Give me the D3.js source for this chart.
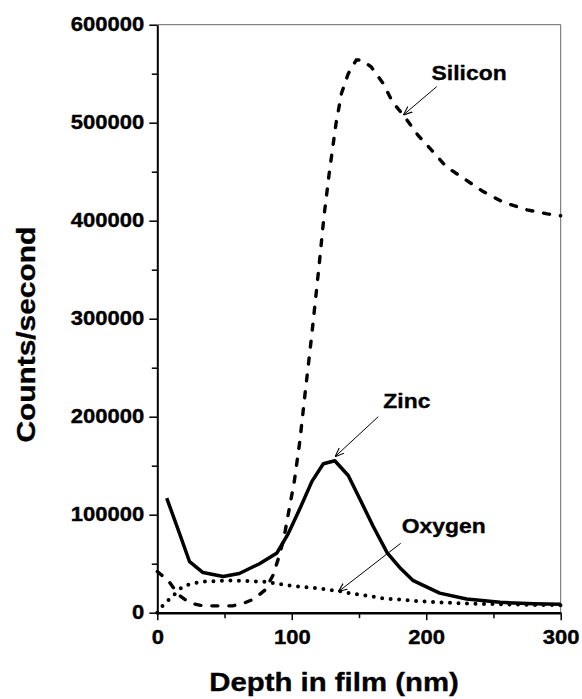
<!DOCTYPE html>
<html>
<head>
<meta charset="utf-8">
<script src="https://cdn.jsdelivr.net/npm/d3@7"></script>
<style>
  body { margin: 0; background: #fff; }
  svg { display: block; font-family: "Liberation Sans", Arial, Helvetica, sans-serif; font-weight: bold; }
  svg text { stroke: #000; stroke-width: 0.35px; }
</style>
</head>
<body>
<svg id="chart" width="582" height="699"></svg>
<script>
  // depth in film (nm), counts/second
  var silicon = [[0,42000],[8,33000],[16,18000],[24,10000],[32,7500],[40,7000],[56,7000],[64,9500],
    [72,14000],[80,23000],[86,38000],[90,55000],[94,75000],[98,105000],[102,135000],[106,175000],
    [110,225000],[115,285000],[120,350000],[124,405000],[128,450000],[133,500000],[137,530000],
    [142,550000],[148,564000],[152,564000],[159,557000],[168,540000],[175,521000],[184,506000],
    [194,487000],[204,472000],[215,455000],[228,443000],[242,430000],[257,419000],[275,411000],
    [290,407000],[300,405000]];
  var zinc = [[7,117000],[17,79000],[24,52000],[34,41000],[49,37000],[61,40000],[76,50000],
    [89,61000],[97.5,81000],[106,106000],[115,134000],[123.5,152000],[132,155000],[142,140000],
    [151,115000],[160.6,88000],[171,61000],[181,45000],[190,33000],[210,20000],[230,14000],
    [255,10600],[280,9200],[300,8600]];
  var oxygen = [[0,0],[4.5,8000],[10.7,16000],[19,27000],[32,31500],[56,33000],[81,31500],
    [96,28000],[118,25000],[136,22000],[143,20000],[168,14700],[193,12000],[218,10000],
    [242,9000],[270,8200],[300,7600]];

  var xTicks = [0, 100, 200, 300];
  var xMinor = [50, 150, 250];
  var yTicks = [0, 100000, 200000, 300000, 400000, 500000, 600000];
  var yMinor = [50000, 150000, 250000, 350000, 450000, 550000];

  // label anchor, arrow start and arrow tip in data units
  var labels = [
    { name: "Silicon", at: [204, 543600], from: [207.8, 536800], to: [183, 507900] },
    { name: "Zinc",    at: [168.1, 208900], from: [164.3, 200000], to: [132.2, 159200] },
    { name: "Oxygen",  at: [181.8, 81000], from: [181, 70800], to: [134.6, 21400] }
  ];

  var width = 582, height = 699;
  var margin = { top: 24.7, right: 21.3, bottom: 86.3, left: 157.3 };
  var stretch = 1.13;

  var svg = d3.select("#chart");

  var x = d3.scaleLinear().domain([0, 300]).range([margin.left, width - margin.right]);
  var y = d3.scaleLinear().domain([0, 600000]).range([height - margin.bottom, margin.top]);

  var line = d3.line()
    .x(function(d) { return x(d[0]); })
    .y(function(d) { return y(d[1]); });

  // frame top and right
  svg.append("path")
    .attr("d", "M" + x(0) + "," + y(600000) + "H" + x(300) + "V" + y(0))
    .attr("fill", "none")
    .attr("stroke", "#666")
    .attr("stroke-width", 1);

  // minor ticks
  svg.append("g")
    .attr("transform", "translate(" + x(0) + ",0)")
    .call(d3.axisLeft(y).tickValues(yMinor).tickSize(5.5).tickFormat("").tickSizeOuter(0))
    .call(function(g) { g.select(".domain").remove(); })
    .selectAll("line").attr("stroke-width", 1.5);
  svg.append("g")
    .attr("transform", "translate(0," + y(0) + ")")
    .call(d3.axisBottom(x).tickValues(xMinor).tickSize(5.5).tickFormat("").tickSizeOuter(0))
    .call(function(g) { g.select(".domain").remove(); })
    .selectAll("line").attr("stroke-width", 1.5);

  // major axes
  var yAxisGroup = svg.append("g")
    .attr("transform", "translate(" + x(0) + ",0)")
    .call(d3.axisLeft(y).tickValues(yTicks).tickSize(8).tickPadding(3.5).tickSizeOuter(0).tickFormat(d3.format("d")));
  var xAxisGroup = svg.append("g")
    .attr("transform", "translate(0," + y(0) + ")")
    .call(d3.axisBottom(x).tickValues(xTicks).tickSize(7.5).tickPadding(10).tickSizeOuter(0));

  [yAxisGroup, xAxisGroup].forEach(function(g) {
    g.selectAll("line").attr("stroke-width", 1.5);
    g.selectAll("text")
      .attr("fill", "#000")
      .style("font-family", "'Liberation Sans', Arial, sans-serif")
      .style("font-weight", "bold")
      .style("font-size", "19.5px")
      .attr("transform", "scale(" + stretch + ",1)");
  });
  yAxisGroup.select(".domain").attr("stroke-width", 2);
  xAxisGroup.select(".domain").attr("stroke-width", 2.6);

  // series
  svg.append("path")
    .datum(silicon)
    .attr("d", line)
    .attr("fill", "none")
    .attr("stroke", "#000")
    .attr("stroke-width", 3.4)
    .attr("stroke-linecap", "round")
    .attr("stroke-dasharray", "6,11");
  svg.append("path")
    .datum(oxygen)
    .attr("d", line)
    .attr("fill", "none")
    .attr("stroke", "#000")
    .attr("stroke-width", 4)
    .attr("stroke-linecap", "round")
    .attr("stroke-dasharray", "0,8.5");
  svg.append("path")
    .datum(zinc)
    .attr("d", line)
    .attr("fill", "none")
    .attr("stroke", "#000")
    .attr("stroke-width", 3.5)
    .attr("stroke-linejoin", "round");

  // arrows
  svg.append("defs").append("marker")
    .attr("id", "head")
    .attr("viewBox", "0 0 10 10")
    .attr("refX", 10).attr("refY", 5)
    .attr("markerWidth", 9).attr("markerHeight", 9)
    .attr("markerUnits", "userSpaceOnUse")
    .attr("orient", "auto")
    .append("path")
      .attr("d", "M0,1L10,5L0,9")
      .attr("fill", "none")
      .attr("stroke", "#000")
      .attr("stroke-width", 1.2);

  svg.selectAll(".arrow")
    .data(labels)
    .enter().append("line")
      .classed("arrow", true)
      .attr("x1", function(d) { return x(d.from[0]); })
      .attr("y1", function(d) { return y(d.from[1]); })
      .attr("x2", function(d) { return x(d.to[0]); })
      .attr("y2", function(d) { return y(d.to[1]); })
      .attr("stroke", "#000")
      .attr("stroke-width", 1)
      .attr("marker-end", "url(#head)");

  svg.selectAll(".label")
    .data(labels)
    .enter().append("text")
      .classed("label", true)
      .attr("transform", function(d) {
        return "translate(" + x(d.at[0]) + "," + y(d.at[1]) + ") scale(1.09,1)";
      })
      .style("font-size", "21px")
      .text(function(d) { return d.name; });

  // axis titles
  svg.append("text")
    .attr("transform", "translate(" + (x(150) - 25) + ",690.7) scale(" + stretch + ",1)")
    .attr("text-anchor", "middle")
    .style("font-size", "26px")
    .text("Depth in film (nm)");
  svg.append("text")
    .attr("transform", "translate(35," + (y(300000) + 16) + ") rotate(-90) scale(1.15,1)")
    .attr("text-anchor", "middle")
    .style("font-size", "26px")
    .text("Counts/second");
</script>
</body>
</html>
